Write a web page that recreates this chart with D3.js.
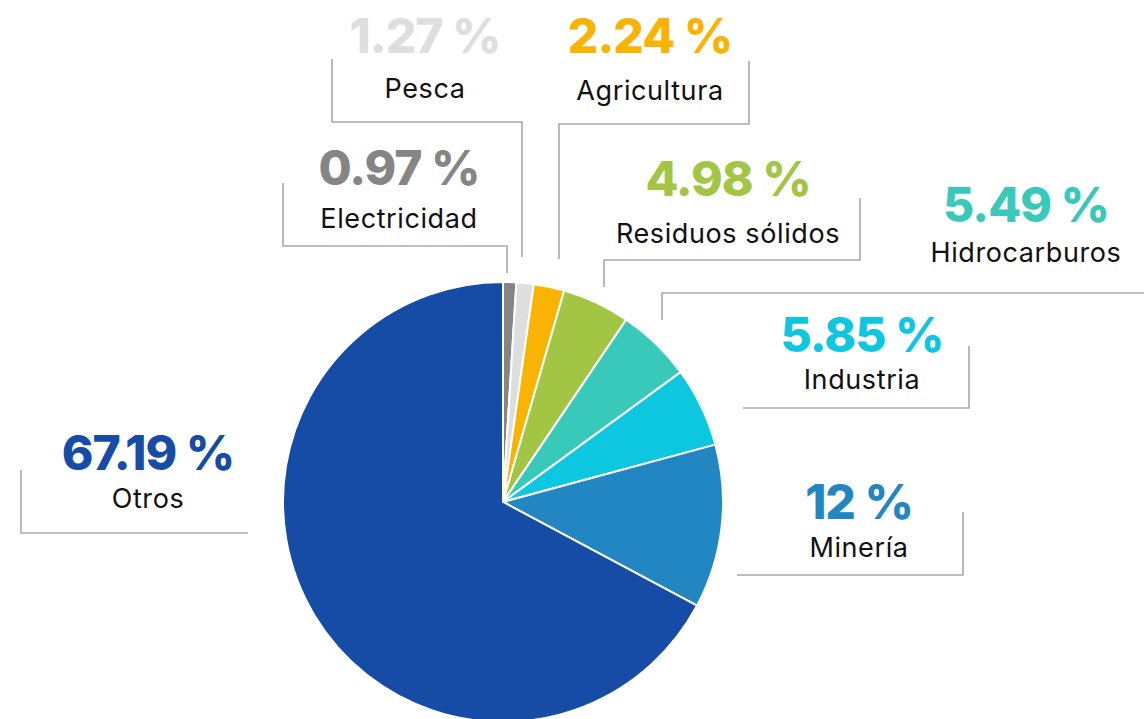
<!DOCTYPE html>
<html>
<head>
<meta charset="utf-8">
<script src="https://cdn.jsdelivr.net/npm/d3@7"></script>
<style>
  html, body { margin: 0; padding: 0; background: #fff; }
  svg { display: block; }
  .num { font-family: Inter, "Open Sans", sans-serif; font-weight: 800; }
  .lbl { font-family: Inter, "Open Sans", sans-serif; font-weight: 400; fill: #111; }
</style>
</head>
<body>
<svg id="chart" width="1144" height="719"></svg>
<script>
// Data: sectors and their share (%)
var categories = ["Electricidad", "Pesca", "Agricultura", "Residuos sólidos",
                  "Hidrocarburos", "Industria", "Minería", "Otros"];
var values = [0.97, 1.27, 2.24, 4.98, 5.49, 5.85, 12, 67.19];
var valueLabels = ["0.97 %", "1.27 %", "2.24 %", "4.98 %", "5.49 %", "5.85 %", "12 %", "67.19 %"];

// Colours per sector
var colors = ["#858585", "#dedede", "#f9b300", "#a2c544", "#38c9bb", "#0dc6e0", "#2186c1", "#164ba6"];

// Callout layout (bracket path + text placement), keyed by category
var callouts = {
    "Electricidad":     { pts: [[283,183],[283,246],[507,246],[507,273]], x: 399, ny: 185, ly: 228 },
    "Pesca":            { pts: [[332,59],[332,122],[522,122],[522,257]], x: 425, ny: 53, ly: 98 },
    "Agricultura":      { pts: [[559,259],[559,124],[749,124],[749,61]], x: 650, ny: 53, ly: 100 },
    "Residuos sólidos": { pts: [[604,287],[604,260],[860,260],[860,198]], x: 728, ny: 196, ly: 243 },
    "Hidrocarburos":    { pts: [[662,320],[662,293],[1144,293]], x: 1026, ny: 222, ly: 262 },
    "Industria":        { pts: [[743,408],[969,408],[969,346]], x: 862, ny: 352, ly: 389 },
    "Minería":          { pts: [[737,575],[963,575],[963,512]], x: 859, ny: 519, ly: 557 },
    "Otros":            { pts: [[21,470],[21,533],[248,533]], x: 148, ny: 470, ly: 508 }
};

var svg = d3.select("#chart");

// Pie geometry
var cx = 503, cy = 502, radius = 220;

var color = d3.scaleOrdinal().domain(categories).range(colors);

var pie = d3.pie()
    .sort(null)
    .value(function (d) { return d.value; });

var arc = d3.arc().innerRadius(0).outerRadius(radius);

var data = categories.map(function (c, i) {
    return { name: c, value: values[i], text: valueLabels[i] };
});

// Slices
svg.append("g")
    .attr("transform", "translate(" + cx + "," + cy + ")")
    .selectAll("path")
    .data(pie(data))
    .join("path")
    .attr("d", arc)
    .attr("fill", function (d) { return color(d.data.name); })
    .attr("stroke", "#fff")
    .attr("stroke-width", 2);

// Bracket lines
var line = d3.line();
svg.append("g")
    .selectAll("path")
    .data(data)
    .join("path")
    .attr("d", function (d) { return line(callouts[d.name].pts); })
    .attr("fill", "none")
    .attr("stroke", "#a9a9a9")
    .attr("stroke-width", 1.6);

// Labels: value + category name
var labels = svg.append("g")
    .selectAll("g")
    .data(data)
    .join("g");

labels.append("text")
    .attr("class", "num")
    .attr("x", function (d) { return callouts[d.name].x; })
    .attr("y", function (d) { return callouts[d.name].ny; })
    .attr("text-anchor", "middle")
    .attr("font-size", 48)
    .attr("letter-spacing", -1)
    .attr("fill", function (d) { return color(d.name); })
    .text(function (d) { return d.text; });

labels.append("text")
    .attr("class", "lbl")
    .attr("x", function (d) { return callouts[d.name].x; })
    .attr("y", function (d) { return callouts[d.name].ly; })
    .attr("text-anchor", "middle")
    .attr("font-size", 27)
    .attr("letter-spacing", 0.6)
    .text(function (d) { return d.name; });
</script>
</body>
</html>
